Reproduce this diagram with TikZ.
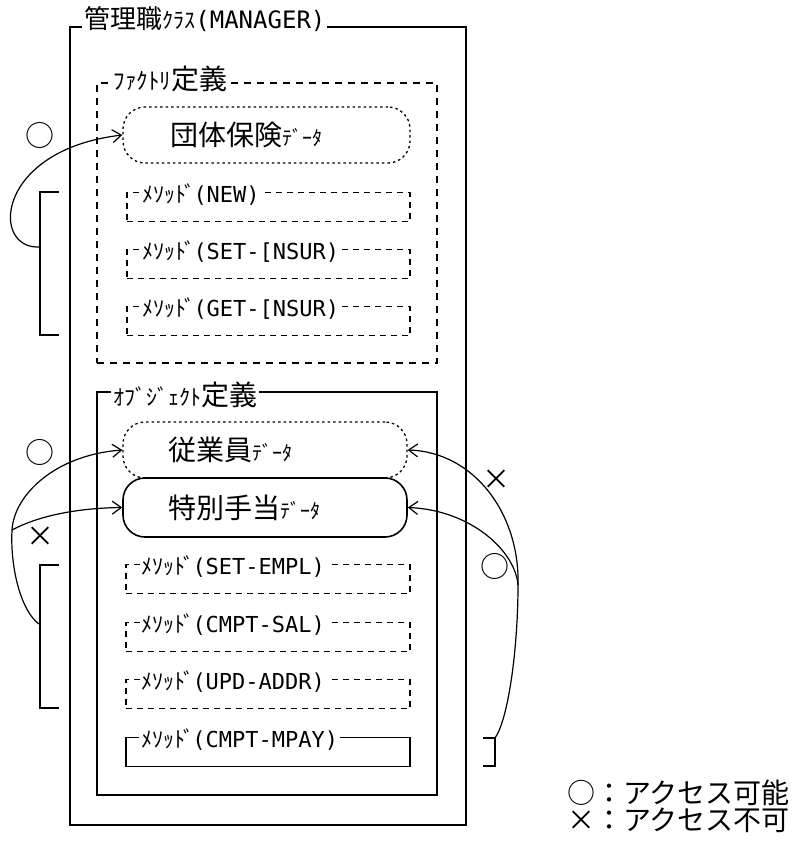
\documentclass[tikz,border=0pt]{standalone}
\usepackage{fontspec}
\newfontfamily\jpf{Noto Sans CJK JP}
\newfontfamily\monof{DejaVu Sans Mono}
\usetikzlibrary{arrows.meta}
\newcommand\KJ[2]{{\jpf\fontsize{#1}{#1}\selectfont #2}}
\newcommand\LT[2]{{\monof\fontsize{#1}{#1}\selectfont #2}}
\newcommand\METH{\KJ{22}{ﾒｿｯﾄ\kern-2ptﾞ}\kern-2pt}
\tikzset{
  frame/.style={draw, line width=1.6pt, inner sep=0pt},
  dframe/.style={draw, line width=1.4pt, dash pattern=on 7pt off 6pt, inner sep=0pt},
  mbox/.style={draw, line width=1.4pt, dash pattern=on 6pt off 5pt, minimum height=29pt, inner sep=0pt},
  sbox/.style={draw, line width=1.6pt, minimum height=29pt, inner sep=0pt},
  ttl/.style={fill=white, inner xsep=2pt, inner ysep=0pt, anchor=west},
  stadium/.style={draw, rounded corners=22pt, inner ysep=0pt, align=left},
  dotline/.style={line width=1.3pt, dash pattern=on 2.5pt off 3pt},
  solline/.style={line width=1.6pt},
  conn/.style={line width=1.2pt},
  tip/.style={-{Straight Barb[length=9pt,width=13pt]}},
  accmark/.style={inner sep=0pt},
  brk/.style={line width=1.6pt},
}
\begin{document}
\begin{tikzpicture}[x=1pt,y=-1pt]
\useasboundingbox[fill=white] (0,0) rectangle (793,841);

% outer class box
\node[frame, minimum width=396pt, minimum height=798pt] (mgr) at (268,426) {};
\node[ttl] (mgrT) at ([xshift=13pt,yshift=7pt]mgr.north west)
  {\KJ{26}{管理職}\KJ{22}{ｸﾗｽ}\LT{24}{(MANAGER)}\hspace{6pt}};

% factory definition
\node[dframe, minimum width=340pt, minimum height=280pt] (fac) at (267,223) {};
\node[ttl] (facT) at ([xshift=15pt,yshift=3pt]fac.north west)
  {\KJ{23}{ﾌｧｸﾄﾘ}\KJ{28}{定義}\hspace{14pt}};

\node[stadium, dotline, minimum height=56pt, inner xsep=47pt, text width=193pt] (ins) at (266.5,135)
  {\KJ{28}{団体保険}\KJ{20}{ﾃﾞｰﾀ}};

\node[mbox, minimum width=283pt] (m1) at (268.5,207) {};
\node[mbox, minimum width=283pt] (m2) at (268.5,264) {};
\node[mbox, minimum width=283pt] (m3) at (268.5,321) {};
\node[ttl] (m1t) at ([xshift=14pt,yshift=-3pt]m1.north west) {\METH\LT{22}{(NEW)}\hspace{14pt}};
\node[ttl] (m2t) at ([xshift=14pt,yshift=-3pt]m2.north west) {\METH\LT{22}{(SET-[NSUR)}\hspace{12pt}};
\node[ttl] (m3t) at ([xshift=14pt,yshift=-3pt]m3.north west) {\METH\LT{22}{(GET-[NSUR)}\hspace{12pt}};

% object definition
\node[frame, minimum width=340pt, minimum height=403pt] (obj) at (267,593.5) {};
\node[ttl] (objT) at ([xshift=15pt,yshift=-4pt]obj.north west)
  {\KJ{22}{ｵﾌﾞｼﾞｪｸﾄ}\KJ{28}{定義}};

\node[stadium, dotline, minimum height=56pt, inner xsep=45pt, text width=194pt] (emp) at (265,450)
  {\KJ{28}{従業員}\KJ{20}{ﾃﾞｰﾀ}};
\node[stadium, solline, minimum height=59pt, inner xsep=45pt, text width=194pt] (spec) at (265,507.5)
  {\KJ{28}{特別手当}\KJ{20}{ﾃﾞｰﾀ}};

\node[mbox, minimum width=284pt] (m4) at (268,579) {};
\node[mbox, minimum width=284pt] (m5) at (268,637) {};
\node[mbox, minimum width=284pt] (m6) at (268,694) {};
\node[sbox, minimum width=284pt] (m7) at (268,752) {};
\node[ttl] (m4t) at ([xshift=14pt,yshift=-3pt]m4.north west) {\METH\LT{22}{(SET-EMPL)}};
\node[ttl] (m5t) at ([xshift=14pt,yshift=-3pt]m5.north west) {\METH\LT{22}{(CMPT-SAL)}};
\node[ttl] (m6t) at ([xshift=14pt,yshift=-3pt]m6.north west) {\METH\LT{22}{(UPD-ADDR)}};
\node[ttl] (m7t) at ([xshift=14pt,yshift=-3pt]m7.north west) {\METH\LT{22}{(CMPT-MPAY)}\hspace{12pt}};

% brackets
\coordinate (fbA) at (59,192);
\coordinate (fbB) at (59,335);
\coordinate (fbM) at (40,247);
\draw[brk] (fbA) -- ++(-19,0) |- (fbB);
\coordinate (obA) at (59,565);
\coordinate (obB) at (59,708);
\coordinate (obM) at (39,624);
\draw[brk] (obA) -- ++(-19,0) |- (obB);
\coordinate (rbA) at (483,738);
\coordinate (rbB) at (483,766);
\coordinate (rbT) at (495,738);
\draw[brk] (rbA) -- ++(12,0) |- (rbB);

% connectors
\draw[conn,tip] (fbM) .. controls (-10,250) and (-5,150) .. (ins.west);

\coordinate (JL) at (12,530);
\draw[conn] (obM) .. controls (22,612) and (10,570) .. (JL);
\draw[conn,tip] (JL) .. controls (14,495) and (55,455) .. (emp.west);
\draw[conn,tip] (JL) .. controls (40,515) and (80,508) .. (spec.west);

\coordinate (JR) at (518,585);
\draw[conn] (rbT) .. controls (508,720) and (518,650) .. (JR);
\draw[conn,tip] (JR) .. controls (520,515) and (475,452) .. (emp.east);
\draw[conn,tip] (JR) .. controls (515,550) and (470,510) .. (spec.east);

% access marks
\node[accmark] (c1) at (40,135) {\KJ{29}{○}};
\node[accmark] (c2) at (40,452) {\KJ{29}{○}};
\node[accmark] (x1) at (41,537) {\KJ{28}{×}};
\node[accmark] (x2) at (496,480) {\KJ{28}{×}};
\node[accmark] (c3) at (495,566) {\KJ{29}{○}};

% legend
\node[accmark, anchor=west] (lg1) at (567,793) {\KJ{28}{○：アクセス可能}};
\node[accmark, anchor=west] (lg2) at (567,820) {\KJ{28}{\makebox[1em]{×}：アクセス不可}};
\end{tikzpicture}
\end{document}
